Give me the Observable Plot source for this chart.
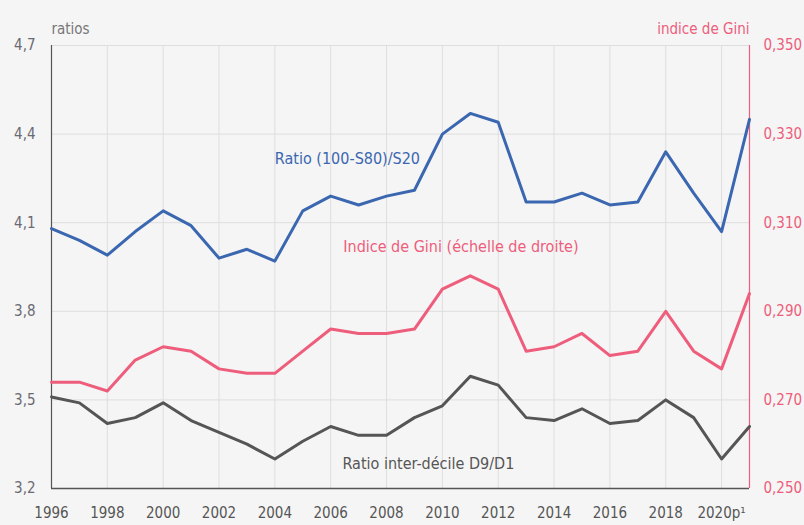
<!DOCTYPE html>
<html><head><meta charset="utf-8">
<script src="https://cdn.jsdelivr.net/npm/d3@7"></script>
<script src="https://cdn.jsdelivr.net/npm/@observablehq/plot@0.6"></script>
<style>
body{margin:0;background:#f5f5f5;}
#chart svg{display:block;}
</style></head><body><div id="chart"></div>
<script>
const years = [1996,1997,1998,1999,2000,2001,2002,2003,2004,2005,2006,2007,2008,2009,2010,2011,2012,2013,2014,2015,2016,2017,2018,2019,2020,2021];
const ratioS80S20 = [4.08,4.04,3.99,4.07,4.14,4.09,3.98,4.01,3.97,4.14,4.19,4.16,4.19,4.21,4.40,4.47,4.44,4.17,4.17,4.20,4.16,4.17,4.34,4.20,4.07,4.45];
const giniIndex = [0.274,0.274,0.272,0.279,0.282,0.281,0.277,0.276,0.276,0.281,0.286,0.285,0.285,0.286,0.295,0.298,0.295,0.281,0.282,0.285,0.280,0.281,0.290,0.281,0.277,0.294];
const ratioD9D1 = [3.51,3.49,3.42,3.44,3.49,3.43,3.39,3.35,3.30,3.36,3.41,3.38,3.38,3.44,3.48,3.58,3.55,3.44,3.43,3.47,3.42,3.43,3.50,3.44,3.30,3.41];
const xTicks = [1996,1998,2000,2002,2004,2006,2008,2010,2012,2014,2016,2018,2020];
const xTickLabels = ["1996","1998","2000","2002","2004","2006","2008","2010","2012","2014","2016","2018","2020p¹"];
const leftTicks = [3.2,3.5,3.8,4.1,4.4,4.7];
const giniTicks = [0.250,0.270,0.290,0.310,0.330,0.350];
const seriesLabels = ["Ratio (100-S80)/S20","Indice de Gini (échelle de droite)","Ratio inter-décile D9/D1"];
const labelYears = [2004.0, 2006.45, 2006.42];
const labelValues = [4.316, 4.019, 3.284];
const leftTitle = "ratios";
const rightTitle = "indice de Gini";

const BLUE = "#3b67b1", PINK = "#ee5d7b", GRAY = "#555555";
const toRatio = g => 3.2 + (g - 0.25) * 15;
const fmt = (v, n) => v.toFixed(n).replace(".", ",");

const s80 = years.map((y, i) => ({year: y, value: ratioS80S20[i]}));
const gini = years.map((y, i) => ({year: y, value: toRatio(giniIndex[i])}));
const d9 = years.map((y, i) => ({year: y, value: ratioD9D1[i]}));
const labels = seriesLabels.map((t, i) => ({text: t, year: labelYears[i], value: labelValues[i], color: [BLUE, PINK, GRAY][i]}));

const font = '"Liberation Sans Narrow","DejaVu Sans Condensed","Roboto",sans-serif';

const chart = Plot.plot({
  width: 804, height: 525,
  marginLeft: 51, marginRight: 55, marginTop: 45, marginBottom: 37,
  style: {background: "#f5f5f5", fontFamily: font, fontSize: "15px", color: "#666"},
  x: {domain: [1996, 2021]},
  y: {domain: [3.2, 4.7]},
  marks: [
    Plot.gridX(xTicks, {stroke: "#dedede", strokeOpacity: 1}),
    Plot.gridY(leftTicks, {stroke: "#dedede", strokeOpacity: 1}),
    Plot.axisX(xTicks, {tickSize: 0, tickPadding: 19, label: null, fill: "#555", fontSize: 15,
      tickFormat: d => xTickLabels[xTicks.indexOf(d)]}),
    Plot.axisY(leftTicks, {anchor: "left", tickSize: 0, tickPadding: 16, label: null, fill: "#6a6a72", fontSize: 15,
      tickFormat: d => fmt(d, 1)}),
    Plot.axisY(giniTicks.map(toRatio), {anchor: "right", tickSize: 0, tickPadding: 14, label: null, fill: PINK, fontSize: 15,
      tickFormat: d => fmt(giniTicks[giniTicks.map(toRatio).indexOf(d)], 3)}),
    Plot.ruleX([1996], {stroke: GRAY, strokeWidth: 1.2}),
    Plot.ruleX([2021], {stroke: PINK, strokeWidth: 1.2}),
    Plot.ruleY([3.2], {stroke: GRAY, strokeWidth: 1.5}),
    Plot.line(d9, {x: "year", y: "value", stroke: GRAY, strokeWidth: 3}),
    Plot.line(gini, {x: "year", y: "value", stroke: PINK, strokeWidth: 3}),
    Plot.line(s80, {x: "year", y: "value", stroke: BLUE, strokeWidth: 3}),
    Plot.text(labels, {x: "year", y: "value", text: "text", fill: "color", textAnchor: "start", fontSize: 16}),
    Plot.text([leftTitle], {frameAnchor: "top-left", dy: -22, textAnchor: "start", fill: "#777", fontSize: 15}),
    Plot.text([rightTitle], {frameAnchor: "top-right", dy: -22, textAnchor: "end", fill: PINK, fontSize: 15})
  ]
});
document.getElementById("chart").appendChild(chart);
</script></body></html>
